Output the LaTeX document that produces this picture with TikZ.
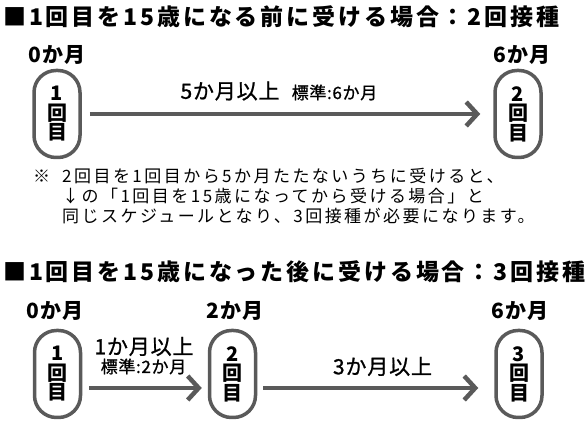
\documentclass[tikz,border=0pt]{standalone}
\usepackage{fontspec}
\setmainfont{Noto Sans CJK JP}
\newfontfamily\jpT{Noto Sans CJK JP}[LetterSpace=12.5]
\newfontfamily\jpN{Noto Sans CJK JP}[LetterSpace=14.5]
\newfontfamily\jpL{Noto Sans CJK JP}[LetterSpace=5]
\newfontfamily\jpM{Noto Sans CJK JP}[LetterSpace=4,FakeBold=1]
\usetikzlibrary{arrows.meta}
\definecolor{capgray}{HTML}{5A5A5A}
\tikzset{
  capsule/.style={draw=capgray, line width=3.5pt, rounded corners=22pt,
    minimum width=46pt, minimum height=87pt, inner sep=0pt, align=center,
    font=\bfseries\fontsize{20}{19.5}\selectfont},
  title/.style={anchor=west, inner sep=0pt, font=\jpT\bfseries\fontsize{23}{25}\selectfont},
  month/.style={inner sep=0pt, font=\jpL\bfseries\fontsize{21}{23}\selectfont},
  biglab/.style={inner sep=0pt, font=\jpM\fontsize{21}{23}\selectfont},
  smalllab/.style={inner sep=0pt, font=\jpM\fontsize{17}{19}\selectfont},
  note/.style={anchor=west, inner sep=0pt, font=\jpN\fontsize{17}{19}\selectfont},
  arr/.style={draw=capgray, line width=4.5pt, -{Straight Barb[length=11pt,width=24pt]}}
}
\begin{document}
\begin{tikzpicture}[x=1pt,y=-1pt]
\useasboundingbox[fill=white] (0,0) rectangle (587,427);
% ---- section 1
\node[title] (t1) at (3,17) {■1回目を15歳になる前に受ける場合：2回接種};
\node[month] (m10) at (57,55) {0か月};
\node[month] (m16) at (522,55) {6か月};
\node[capsule] (a1) at (57,114) {1\\回\\目};
\node[capsule] (a2) at (518,114) {2\\回\\目};
\draw[arr] ([xshift=8pt]a1.east) -- ([xshift=-13pt]a2.west);
\node[biglab] (l1) at (230,91) {5か月以上};
\node[smalllab] (l1s) at (334.5,92.5) {標準:6か月};
\node[note] (n0) at (33,176) {※};
\node[note] (n1) at (62,176) {2回目を1回目から5か月たたないうちに受けると、};
\node[note] (n2) at (62,196) {↓の「1回目を15歳になってから受ける場合」と};
\node[note] (n3) at (62,216) {同じスケジュールとなり、3回接種が必要になります。};
% ---- section 2
\node[title] (t2) at (3,272) {■1回目を15歳になった後に受ける場合：3回接種};
\node[month] (m20) at (55,311) {0か月};
\node[month] (m22) at (235,311) {2か月};
\node[month] (m26) at (520,311) {6か月};
\node[capsule] (b1) at (57.5,374) {1\\回\\目};
\node[capsule] (b2) at (232.5,374) {2\\回\\目};
\node[capsule] (b3) at (519,374) {3\\回\\目};
\draw[arr] ([xshift=7pt,yshift=-14pt]b1.east) -- ([xshift=-6pt,yshift=-14pt]b2.west);
\draw[arr] ([xshift=6pt,yshift=-14pt]b2.east) -- ([xshift=-16pt,yshift=-14pt]b3.west);
\node[biglab] (l2) at (144,346.5) {1か月以上};
\node[smalllab] (l2s) at (143.5,366.5) {標準:2か月};
\node[biglab] (l3) at (382.5,366.5) {3か月以上};
\end{tikzpicture}
\end{document}
